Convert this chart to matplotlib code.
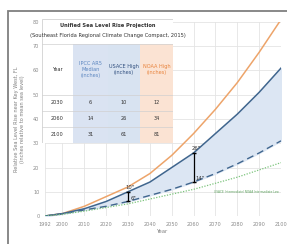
import matplotlib.pyplot as plt
from matplotlib.patches import Rectangle

plt.rcParams['font.family'] = ['Liberation Sans Narrow', 'DejaVu Sans']

# curves (inches), read at each decade
years = [1992, 2000, 2010, 2020, 2030, 2040, 2050, 2060, 2070, 2080, 2090, 2100]
noaa_high = [0, 1, 4, 8, 12, 17.5, 25, 34, 44, 55, 67.5, 81]
usace_high = [0, 1, 3, 6, 10, 14, 20, 26, 34, 42, 51, 61]
ipcc_median = [0, 0.9, 2.5, 4, 6, 8.5, 11, 14, 17.5, 21.5, 26, 31]
usace_int = [0, 0.7, 2, 3.5, 5, 7, 9, 11, 13.5, 16, 19, 22]

# table
tbl_years = ['2030', '2060', '2100']
tbl_ipcc = ['6', '14', '31']
tbl_usace = ['10', '26', '61']
tbl_noaa = ['12', '34', '81']
tbl_heads = ['Year', 'IPCC AR5\nMedian\n(inches)', 'USACE High\n(inches)', 'NOAA High\n(inches)']

W, H = 287, 244
fig = plt.figure(figsize=(W / 100, H / 100), dpi=100)

# outer frame
fig.patches.append(Rectangle((8 / W, -0.05), 1.2, 1 - 11 / H + 0.05, transform=fig.transFigure,
                             fill=False, edgecolor='#7f7f7f', linewidth=1.3))

ax = fig.add_axes([45 / W, 1 - 216 / H, 236 / W, 194 / H])
ax.set_xlim(1992, 2100)
ax.set_ylim(0, 80)
ax.set_xticks([1992, 2000, 2010, 2020, 2030, 2040, 2050, 2060, 2070, 2080, 2090, 2100])
ax.set_yticks(range(0, 81, 10))
ax.tick_params(labelsize=3.6, length=0, colors='#8a8a8a', pad=4)
for s in ax.spines.values():
    s.set_visible(False)
ax.grid(color='#e4e4e4', linewidth=0.6)
ax.set_axisbelow(True)

ax.fill_between(years, ipcc_median, usace_high, color='#dce6f3', zorder=1)
ax.plot(years, noaa_high, color='#eda46a', linewidth=1.1, zorder=3)
ax.plot(years, usace_high, color='#40668e', linewidth=1.1, zorder=3)
ax.plot(years, ipcc_median, color='#40668e', linewidth=1.0, dashes=(5, 3), zorder=3)
ax.plot(years, usace_int, color='#7cc47c', linewidth=0.9, linestyle=(0, (1, 1.2)), zorder=3)

# range markers
for yr, lo, hi in [(2030, 6, 10), (2060, 14, 26)]:
    ax.plot([yr, yr], [lo, hi], color='black', linewidth=0.9, marker='_', markersize=3, zorder=4)
    ax.text(yr - 1, hi + 0.6, f'{hi}"', fontsize=3.8, color='#333333', ha='left', va='bottom', zorder=5)
    ax.text(yr + 1, lo + 0.3, f'{lo}"', fontsize=3.8, color='#333333', ha='left', va='bottom', zorder=5)

ax.text(2069.5, 9.9, 'USACE Intermediate/ NOAA Intermediate Low', fontsize=2.1, color='#5aa05a',
        ha='left', va='center')

ax.set_xlabel('Year', fontsize=3.8, color='#7f7f7f', labelpad=2)
ax.set_ylabel('Relative Sea Level Rise near Key West, FL\n(inches relative to mean sea level)',
              fontsize=3.6, color='#7f7f7f', labelpad=6, linespacing=1.1)

# table overlay in pixel coordinates
tx = fig.add_axes([42 / W, 1 - 143 / H, 131 / W, 124 / H])
tx.set_xlim(42, 173)
tx.set_ylim(143, 19)
tx.axis('off')
cols = [42, 73, 108, 140, 173]
rows = [19, 44, 95, 111, 127, 143]
fills = ['white', '#dae3f2', '#d8e3f1', '#fbe3d3']
for i in range(4):
    tx.add_patch(Rectangle((cols[i], rows[1]), cols[i + 1] - cols[i], rows[-1] - rows[1],
                           facecolor=fills[i], edgecolor='none'))
tx.add_patch(Rectangle((42, 19), 131, 25, facecolor='white', edgecolor='none'))
for r in rows[1:-1]:
    tx.plot([42, 173], [r, r], color='#d0d0d0', linewidth=0.5)
tx.add_patch(Rectangle((42, 19), 131, 124, fill=False, edgecolor='#c8c8c8', linewidth=0.5))

tx.text(107.5, 25, 'Unified Sea Level Rise Projection', fontsize=3.7, fontweight='bold',
        color='#333333', ha='center', va='center')
tx.text(107.5, 35, '(Southeast Florida Regional Climate Change Compact, 2015)', fontsize=3.7,
        color='#333333', ha='center', va='center')
head_colors = ['#333333', '#5b86c0', '#2f4e7e', '#e8823a']
for i, h in enumerate(tbl_heads):
    tx.text((cols[i] + cols[i + 1]) / 2, 69.5, h, fontsize=3.6, color=head_colors[i],
            ha='center', va='center', linespacing=1.3)
for j, vals in enumerate(zip(tbl_years, tbl_ipcc, tbl_usace, tbl_noaa)):
    yc = (rows[j + 2] + rows[j + 3]) / 2
    for i, v in enumerate(vals):
        tx.text((cols[i] + cols[i + 1]) / 2, yc, v, fontsize=3.6, color='#333333',
                ha='center', va='center')

fig.savefig('out.png', dpi=100)
